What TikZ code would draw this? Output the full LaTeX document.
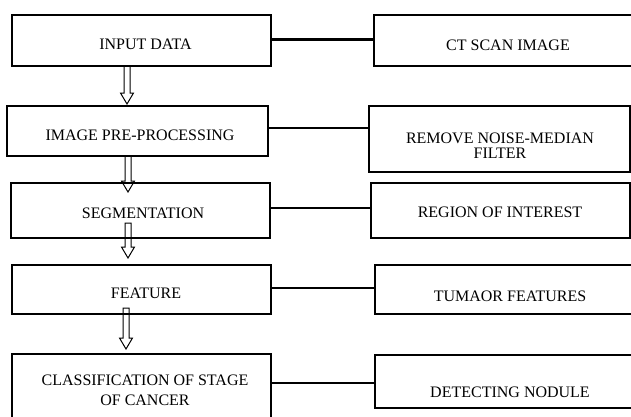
\documentclass[tikz,border=0pt]{standalone}
\usepackage{fontspec}
\setmainfont{Liberation Serif}
\usetikzlibrary{calc}
\tikzset{
  box/.style={draw, line width=2pt, inner sep=0pt, rectangle},
  txt/.style={inner sep=0pt, font=\fontsize{16}{15}\selectfont},
  link/.style={line width=2pt},
  arrowline/.style={line width=1pt, line join=miter},
}
\newcommand\hollowarrow[2]{%
  \draw[arrowline] let \p1=(#1), \p2=(#2) in
    (\x1-3pt,\y1) -- (\x1-3pt,\y2+11pt) -- (\x1-6.5pt,\y2+11pt) -- (\x1,\y2)
    -- (\x1+6.5pt,\y2+11pt) -- (\x1+3pt,\y2+11pt) -- (\x1+3pt,\y1) -- cycle;}
\begin{document}
\begin{tikzpicture}[x=1pt,y=-1pt]
\useasboundingbox (0,0) rectangle (631,416);
% left boxes
\node[box, minimum width=259pt, minimum height=51pt] (in)  at (141.5,40.5) {};
\node[box, minimum width=261pt, minimum height=50pt] (pre) at (137.5,131) {};
\node[box, minimum width=259pt, minimum height=55pt] (seg) at (140.5,210.5) {};
\node[box, minimum width=259pt, minimum height=49pt] (fea) at (141.5,289.5) {};
\node[box, minimum width=259pt, minimum height=76pt] (cls) at (141.5,392) {};
% right boxes
\node[box, minimum width=261pt, minimum height=51pt] (ct)  at (504.5,40.5) {};
\node[box, minimum width=261pt, minimum height=66pt] (rn)  at (499.5,139) {};
\node[box, minimum width=259pt, minimum height=55pt] (roi) at (500.5,210.5) {};
\node[box, minimum width=260pt, minimum height=49pt] (tf)  at (505,289.5) {};
\node[box, minimum width=260pt, minimum height=53pt] (dn)  at (505,381.5) {};
% texts
\node[txt, anchor=base] (tin)  at (145.5,49) {INPUT DATA};
\node[txt, anchor=base] (tct)  at (508,50.5) {CT SCAN IMAGE};
\node[txt, anchor=base] (tpre) at (140,140) {IMAGE PRE-PROCESSING};
\node[txt, align=center] (trn) at (500,145.5) {REMOVE NOISE-MEDIAN\\FILTER};
\node[txt, anchor=base] (tseg) at (143,218) {SEGMENTATION};
\node[txt, anchor=base] (troi) at (500,217) {REGION OF INTEREST};
\node[txt, anchor=base] (tfea) at (146,298) {FEATURE};
\node[txt, anchor=base] (ttf)  at (510,301) {TUMAOR FEATURES};
\node[txt, align=center, font=\fontsize{16}{20}\selectfont] (tcls) at (145,390) {CLASSIFICATION OF STAGE\\OF CANCER};
\node[txt, anchor=base] (tdn)  at (510,397) {DETECTING NODULE};
% connectors
\draw[link, line width=3pt] (in.east |- 0,39) -- (ct.west |- 0,39);
\draw[link] (pre.east |- 0,128) -- (rn.west |- 0,128);
\draw[link] (seg.east |- 0,208) -- (roi.west |- 0,208);
\draw[link] (fea.east |- 0,288) -- (tf.west |- 0,288);
\draw[link] (cls.east |- 0,383) -- (dn.west |- 0,383);
% flow arrows
\coordinate (a1s) at (127,66);  \coordinate (a1e) at (127,104);
\coordinate (a2s) at (128,156); \coordinate (a2e) at (128,192);
\coordinate (a3s) at (128,223); \coordinate (a3e) at (128,258);
\coordinate (a4s) at (126,308); \coordinate (a4e) at (126,349);
\hollowarrow{a1s}{a1e}
\hollowarrow{a2s}{a2e}
\hollowarrow{a3s}{a3e}
\hollowarrow{a4s}{a4e}
\end{tikzpicture}
\end{document}
